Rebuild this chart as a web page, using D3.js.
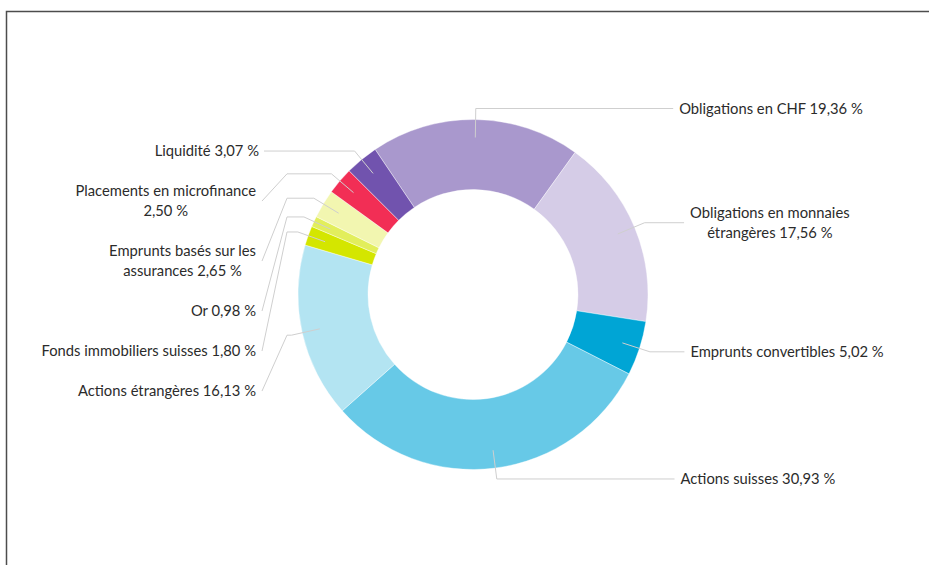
<!DOCTYPE html>
<html>
<head>
<meta charset="utf-8">
<script src="https://cdn.jsdelivr.net/npm/d3@7/dist/d3.min.js"></script>
<style>
  html, body { margin: 0; padding: 0; background: #fff; }
  svg { display: block; }
  text { font-family: Lato, "Open Sans", sans-serif; fill: #2b2b2b; }
</style>
</head>
<body>
<svg id="chart" width="929" height="565"></svg>
<script>
// ---- data (clockwise order) ----
const categories = [
  ["Obligations en CHF"],
  ["Obligations en monnaies", "étrangères"],
  ["Emprunts convertibles"],
  ["Actions suisses"],
  ["Actions étrangères"],
  ["Fonds immobiliers suisses"],
  ["Or"],
  ["Emprunts basés sur les", "assurances"],
  ["Placements en microfinance", ""],
  ["Liquidité"]
];
const values = [19.36, 17.56, 5.02, 30.93, 16.13, 1.80, 0.98, 2.65, 2.50, 3.07];
const colors = ["#a998cd", "#d5cce7", "#00a5d5", "#67c9e7", "#b3e4f2",
                "#d4e600", "#e2ee5c", "#f2f6b0", "#f22e55", "#7153ae"];

const fmt = v => v.toFixed(2).replace(".", ",") + " %";

// ---- layout ----
const W = 929, H = 565;
const cx = 473, cy = 294.5, R = 175, r0 = 105;
const rStart = 157, rElbow = 186;
const startDeg = -34;
const fontSize = 14.75, lineH = 20.5;

const svg = d3.select("#chart");

// frame
svg.append("rect")
  .attr("x", 6.5).attr("y", 11.5)
  .attr("width", W + 20).attr("height", H + 20)
  .attr("fill", "none").attr("stroke", "#4d4d4d").attr("stroke-width", 1.5);

const data = values.map((v, i) => ({ v, i, lines: categories[i].slice(), color: colors[i] }));
data.forEach(d => {
  const last = d.lines.length - 1;
  d.lines[last] = (d.lines[last] ? d.lines[last] + " " : "") + fmt(d.v);
});

const pie = d3.pie().value(d => d.v).sort(null)
  .startAngle(startDeg * Math.PI / 180)
  .endAngle(startDeg * Math.PI / 180 + 2 * Math.PI);
const arcs = pie(data);
const arc = d3.arc().innerRadius(r0).outerRadius(R);

const g = svg.append("g").attr("transform", `translate(${cx},${cy})`);
g.selectAll("path.slice").data(arcs).join("path")
  .attr("class", "slice")
  .attr("d", arc)
  .attr("fill", d => d.data.color)
  .attr("stroke", "#fff").attr("stroke-width", 0.4);

const pt = (a, rr) => [cx + rr * Math.sin(a), cy - rr * Math.cos(a)];

const labels = svg.append("g");
const leaders = svg.append("g");

const right = [], left = [];
arcs.forEach(a => {
  const mid = (a.startAngle + a.endAngle) / 2;
  const s = pt(mid, rStart), e = pt(mid, rElbow);
  const o = { a, mid, s, e, n: a.data.lines.length };
  (Math.sin(mid) >= 0 ? right : left).push(o);
});

// right side: labels at elbow height
right.forEach(o => {
  const endX = cx + 200 + 12 * Math.abs(Math.sin(o.mid));
  o.labelY = o.e[1];
  o.path = [o.s, o.e, [endX, o.e[1]]];
  o.textX = endX + 6;
});

// left side: stack from top with fixed gap
left.sort((p, q) => p.e[1] - q.e[1]);
let cursor = null;
const gap = 20, boxH = n => n * 20;
left.forEach((o, k) => {
  const h = boxH(o.n);
  if (k === 0) { o.labelY = o.e[1]; cursor = o.labelY + h / 2; }
  else { o.labelY = cursor + gap + h / 2; cursor = o.labelY + h / 2; }
  const colX = cx - rElbow;
  if (Math.abs(o.labelY - o.e[1]) < 1) {
    o.path = [o.s, o.e, [cx - 209, o.e[1]]];
    o.textRight = cx - 214;
  } else {
    o.path = [o.s, o.e, [colX, o.e[1]], [cx - 211, o.labelY]];
    o.textRight = cx - 217;
  }
});

const lineGen = d3.line();
[...right, ...left].forEach(o => {
  leaders.append("path")
    .attr("d", lineGen(o.path))
    .attr("fill", "none").attr("stroke", "#cfcfcf").attr("stroke-width", 1);
});

function drawLabel(o, side) {
  const t = labels.append("text")
    .attr("font-size", fontSize)
    .attr("text-anchor", "middle");
  const n = o.n;
  const tsp = o.a.data.lines.map((ln, j) =>
    t.append("tspan").text(ln)
      .attr("y", o.labelY + (j - (n - 1) / 2) * lineH)
      .attr("dy", "0.35em"));
  const widths = tsp.map(s => s.node().getComputedTextLength());
  const maxW = d3.max(widths);
  const centerX = side === "right" ? o.textX + maxW / 2 : o.textRight - maxW / 2;
  tsp.forEach(s => s.attr("x", centerX));
}
right.forEach(o => drawLabel(o, "right"));
left.forEach(o => drawLabel(o, "left"));
</script>
</body>
</html>
